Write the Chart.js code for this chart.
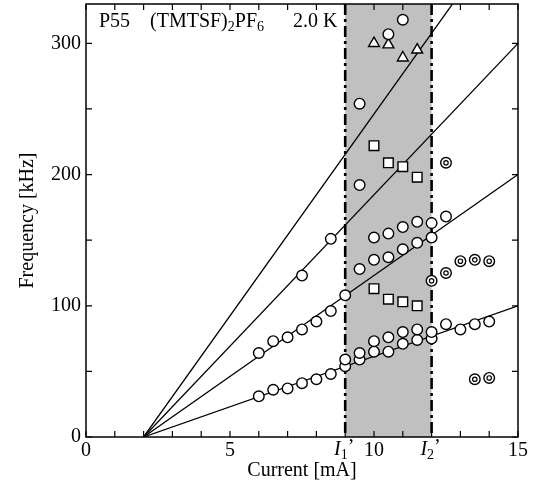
<!DOCTYPE html>
<html>
<head>
<meta charset="utf-8">
<script src="https://cdn.jsdelivr.net/npm/chart.js@4"></script>
<style>
  html, body { margin: 0; padding: 0; background: #fff; }
  #wrap { width: 540px; height: 495px; }
</style>
</head>
<body>
<div id="wrap"><canvas id="freqChart" width="540" height="495"></canvas></div>
<script>
  // data
  const lowCurrent = [6, 6.5, 7, 7.5, 8, 8.5, 9, 9, 9.5, 9.5, 10, 10, 10.5, 10.5, 11, 11, 11.5, 11.5, 12, 12, 12.5, 13, 13.5, 14];
  const lowFreq    = [31, 36, 37, 41, 44, 48, 54, 59, 59, 64, 65, 73, 65, 76, 71, 80, 74, 82, 75, 80, 86, 82, 86, 88];

  const midCurrent = [6, 6.5, 7, 7.5, 8, 8.5, 9, 9.5, 10, 10.5, 11, 11.5, 12, 10, 10.5, 11, 11.5, 12, 12.5];
  const midFreq    = [64, 73, 76, 82, 88, 96, 108, 128, 135, 137, 143, 148, 152, 152, 155, 160, 164, 163, 168];

  const highCurrent = [7.5, 8.5, 9.5, 9.5, 10.5, 11];
  const highFreq    = [123, 151, 192, 254, 307, 318];

  const squareCurrent = [10, 10.5, 11, 11.5, 10, 10.5, 11, 11.5];
  const squareFreq    = [222, 209, 206, 198, 113, 105, 103, 100];

  const triCurrent = [10, 10.5, 11, 11.5];
  const triFreq    = [300, 299, 289, 295];

  const ringCurrent = [12.5, 12, 12.5, 13, 13.5, 14, 13.5, 14];
  const ringFreq    = [209, 119, 125, 134, 135, 134, 44, 45];

  // fit lines: all start at (2 mA, 0) and reach these values at 15 mA
  const fitStart = 2;
  const fitEndCurrent = 15;
  const fitEndFreq = [100, 200, 300, 400];

  const xTicks = [0, 5, 10, 15];
  const yTicks = [0, 100, 200, 300];
  const bandFrom = 9, bandTo = 12;   // I1', I2'

  const pts = (xs, ys) => xs.map((x, i) => ({ x: x, y: ys[i] }));
  const serif = '"Liberation Serif", "DejaVu Serif", serif';

  const datasets = [];
  fitEndFreq.forEach(f => {
    datasets.push({
      data: [{ x: fitStart, y: 0 }, { x: fitEndCurrent, y: f }],
      showLine: true, borderColor: '#000', borderWidth: 1.3,
      pointRadius: 0, order: 10
    });
  });
  const marker = (xs, ys, style, r) => ({
    data: pts(xs, ys), pointStyle: style, pointRadius: r,
    pointBackgroundColor: '#fff', pointBorderColor: '#000', pointBorderWidth: 1.4,
    showLine: false, order: 1
  });
  datasets.push(marker(lowCurrent, lowFreq, 'circle', 5.3));
  datasets.push(marker(midCurrent, midFreq, 'circle', 5.3));
  datasets.push(marker(highCurrent, highFreq, 'circle', 5.3));
  datasets.push(marker(squareCurrent, squareFreq, 'rect', 6.8));
  datasets.push(marker(triCurrent, triFreq, 'triangle', 6.3));
  datasets.push(marker(ringCurrent, ringFreq, 'circle', 5.3));
  const inner = marker(ringCurrent, ringFreq, 'circle', 2.2);
  inner.order = 0;
  inner.pointBorderWidth = 1.2;
  datasets.push(inner);

  const decor = {
    id: 'decor',
    beforeDatasetsDraw(chart) {
      const { ctx, chartArea: a, scales: { x, y } } = chart;
      ctx.save();
      const x1 = x.getPixelForValue(bandFrom), x2 = x.getPixelForValue(bandTo);
      ctx.fillStyle = '#c0c0c0';
      ctx.fillRect(x1, a.top, x2 - x1, a.bottom - a.top);
      ctx.strokeStyle = '#000';
      ctx.lineWidth = 2.6;
      ctx.setLineDash([11, 4, 3, 4]);
      [x1, x2].forEach(px => {
        ctx.beginPath();
        ctx.moveTo(px, a.top);
        ctx.lineTo(px, a.bottom);
        ctx.stroke();
      });
      ctx.restore();
    },
    afterDraw(chart) {
      const { ctx, chartArea: a, scales: { x, y } } = chart;
      ctx.save();
      ctx.strokeStyle = '#000';
      ctx.lineWidth = 1.5;
      ctx.strokeRect(a.left, a.top, a.right - a.left, a.bottom - a.top);
      // inward ticks
      ctx.lineWidth = 1.2;
      ctx.beginPath();
      for (let v = 0; v <= 15; v++) {
        const px = x.getPixelForValue(v);
        ctx.moveTo(px, a.bottom); ctx.lineTo(px, a.bottom - 6);
        ctx.moveTo(px, a.top); ctx.lineTo(px, a.top + 6);
      }
      for (let v = 0; v <= 330; v += 50) {
        const py = y.getPixelForValue(v);
        ctx.moveTo(a.left, py); ctx.lineTo(a.left + 6, py);
        ctx.moveTo(a.right, py); ctx.lineTo(a.right - 6, py);
      }
      ctx.stroke();

      ctx.fillStyle = '#000';
      ctx.textBaseline = 'alphabetic';
      // header text
      const big = '20px ' + serif, small = '14px ' + serif;
      const run = (parts, px, py) => {
        parts.forEach(([t, f, dy]) => {
          ctx.font = f;
          ctx.fillText(t, px, py + dy);
          px += ctx.measureText(t).width;
        });
        return px;
      };
      run([['P55', big, 0]], 99, 27);
      run([['(TMTSF)', big, 0], ['2', small, 4], ['PF', big, 0], ['6', small, 4]], 150, 27);
      run([['2.0 K', big, 0]], 293, 27);

      // I1', I2' tick labels
      const it = 'italic 20px ' + serif;
      [[bandFrom, '1'], [bandTo, '2']].forEach(([v, s]) => {
        const px = x.getPixelForValue(v);
        ctx.font = it;
        const w = ctx.measureText('I').width;
        ctx.font = small;
        const w2 = ctx.measureText(s).width;
        ctx.font = big;
        const w3 = ctx.measureText('\u2019').width;
        let sx = px - (w + w2 + w3) / 2 - 1;
        ctx.font = it; ctx.fillText('I', sx, 455); sx += w;
        ctx.font = small; ctx.fillText(s, sx, 459); sx += w2;
        ctx.font = big; ctx.fillText('\u2019', sx, 453);
      });
      ctx.restore();
    }
  };

  new Chart(document.getElementById('freqChart'), {
    type: 'scatter',
    data: { datasets: datasets },
    options: {
      responsive: false,
      animation: false,
      layout: { autoPadding: false, padding: { top: 4, right: 22, left: 16, bottom: 12 } },
      plugins: { legend: { display: false }, tooltip: { enabled: false } },
      scales: {
        x: {
          type: 'linear', min: 0, max: 15,
          afterBuildTicks: s => { s.ticks = xTicks.map(v => ({ value: v })); },
          afterFit: s => { s.height = 46; },
          grid: { display: false, drawTicks: false },
          border: { display: false },
          ticks: { color: '#000', padding: 2, maxRotation: 0, font: { family: serif, size: 20 } },
          title: { display: true, text: 'Current [mA]', color: '#000', padding: { top: 0, bottom: 0 }, font: { family: serif, size: 20 } }
        },
        y: {
          type: 'linear', min: 0, max: 330,
          afterBuildTicks: s => { s.ticks = yTicks.map(v => ({ value: v })); },
          afterFit: s => { s.width = 70; s.paddingTop = 0; s.paddingBottom = 0; },
          grid: { display: false, drawTicks: false },
          border: { display: false },
          ticks: { color: '#000', padding: 5, font: { family: serif, size: 20, lineHeight: 0.1 } },
          title: { display: true, text: 'Frequency [kHz]', color: '#000', padding: { top: 0, bottom: 0 }, font: { family: serif, size: 20 } }
        }
      }
    },
    plugins: [decor]
  });
</script>
</body>
</html>
